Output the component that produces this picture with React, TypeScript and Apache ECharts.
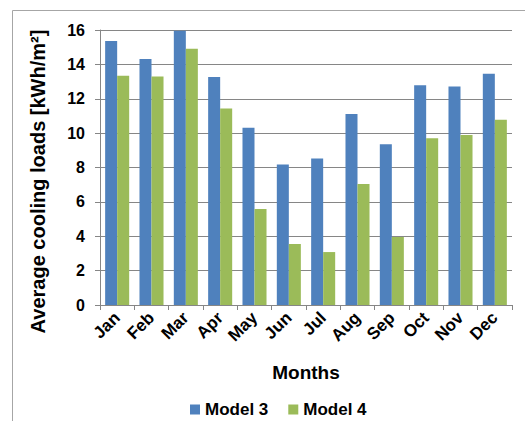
import React, { useEffect, useRef } from "react";
import * as echarts from "echarts";

const months = ["Jan", "Feb", "Mar", "Apr", "May", "Jun", "Jul", "Aug", "Sep", "Oct", "Nov", "Dec"];
const model3 = [15.36, 14.31, 15.96, 13.26, 10.31, 8.18, 8.53, 11.11, 9.35, 12.78, 12.72, 13.46];
const model4 = [13.34, 13.3, 14.91, 11.44, 5.58, 3.55, 3.08, 7.04, 3.96, 9.7, 9.89, 10.78];
const yTicks = { min: 0, max: 16, interval: 2 };

export default function App() {
  const ref = useRef<HTMLDivElement>(null);
  useEffect(() => {
    const chart = echarts.init(ref.current!, null, { renderer: "svg" });
    const font = "Liberation Sans, Arial, sans-serif";
    chart.setOption({
      animation: false,
      backgroundColor: "#ffffff",
      textStyle: { fontFamily: font },
      graphic: [
        {
          type: "rect",
          shape: { x: 12.5, y: 10.5, width: 600, height: 500 },
          style: { fill: "none", stroke: "#a6a6a6", lineWidth: 1 },
          silent: true,
        },
      ],
      grid: { left: 100, right: 13, top: 30, bottom: 116 },
      legend: {
        data: ["Model 3", "Model 4"],
        top: 396,
        left: 185,
        itemWidth: 10,
        itemHeight: 10,
        itemGap: 20,
        icon: "rect",
        textStyle: { fontFamily: font, fontWeight: "bold", fontSize: 17, color: "#000" },
      },
      xAxis: {
        type: "category",
        data: months,
        name: "Months",
        nameLocation: "middle",
        nameGap: 58,
        nameTextStyle: { fontFamily: font, fontWeight: "bold", fontSize: 19, color: "#000" },
        axisLine: { lineStyle: { color: "#868686", width: 1 } },
        axisTick: { show: true, alignWithLabel: false, length: 5, lineStyle: { color: "#868686" } },
        axisLabel: {
          rotate: 45,
          margin: 10,
          fontFamily: font,
          fontWeight: "bold",
          fontSize: 17,
          color: "#000",
        },
      },
      yAxis: {
        type: "value",
        min: yTicks.min,
        max: yTicks.max,
        interval: yTicks.interval,
        name: "Average cooling loads [kWh/m²]",
        nameLocation: "middle",
        nameGap: 52,
        nameTextStyle: {
          fontFamily: font,
          fontWeight: "bold",
          fontSize: 20,
          color: "#000",
          padding: [0, 28, 0, 0],
        },
        axisLine: { show: true, lineStyle: { color: "#868686", width: 1 } },
        axisTick: { show: true, length: 5, lineStyle: { color: "#868686" } },
        splitLine: { show: true, lineStyle: { color: "#868686", width: 1 } },
        axisLabel: {
          margin: 15,
          fontFamily: font,
          fontWeight: "bold",
          fontSize: 16,
          color: "#000",
        },
      },
      series: [
        {
          name: "Model 3",
          type: "bar",
          data: model3,
          itemStyle: { color: "#4F81BD" },
          barGap: "0%",
          barCategoryGap: "30%",
        },
        {
          name: "Model 4",
          type: "bar",
          data: model4,
          itemStyle: { color: "#9BBB59" },
          barGap: "0%",
          barCategoryGap: "30%",
        },
      ],
    });
    return () => chart.dispose();
  }, []);
  return (
    <div
      ref={ref}
      style={{ position: "fixed", left: 0, top: 0, width: 525, height: 421 }}
    />
  );
}
